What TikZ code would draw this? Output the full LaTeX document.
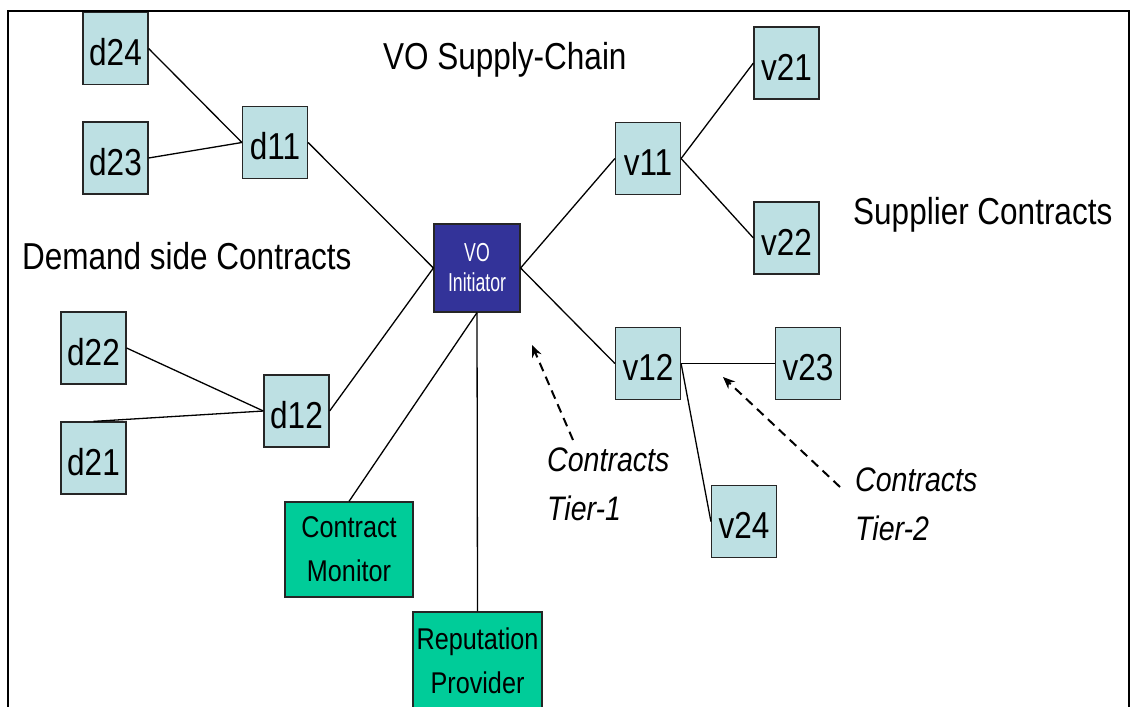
\documentclass[tikz,border=0pt]{standalone}
\usepackage{fontspec}
\setmainfont{Liberation Sans}
\newfontfamily\nar[FakeStretch=0.84]{Liberation Sans}
\newfontfamily\narvo[FakeStretch=0.68]{Liberation Sans}
\usetikzlibrary{arrows.meta}
\definecolor{boxblue}{RGB}{189,224,227}
\definecolor{boxgreen}{RGB}{0,204,153}
\definecolor{vonavy}{RGB}{51,51,153}
\begin{document}
\begin{tikzpicture}[x=1pt,y=-1pt,
  sbox/.style={draw=black!85, line width=1.2pt, fill=boxblue, minimum width=65pt, minimum height=72pt,
    inner sep=0pt, text height=34.5pt, text depth=0pt, font=\nar\fontsize{37.5}{40}\selectfont},
  gbox/.style={draw=black!85, line width=1.2pt, fill=boxgreen, minimum width=128pt, inner sep=0pt,
    align=center, font=\nar\fontsize{30}{44}\selectfont},
  vobox/.style={draw=black!85, line width=1.2pt, fill=vonavy, text=white, minimum width=86pt, minimum height=88pt,
    inner sep=0pt, align=center, font=\narvo\fontsize{26}{30}\selectfont},
  conn/.style={draw=black, line width=1.3pt},
  callout/.style={draw=black, line width=2pt, dash pattern=on 9pt off 6pt, -{Stealth[length=12pt,width=10pt]}},
  bigtext/.style={anchor=base west, inner sep=0pt, font=\nar\fontsize{37.5}{45}\selectfont},
  tiertext/.style={anchor=north west, inner sep=0pt, align=left, font=\nar\itshape\fontsize{34}{49}\selectfont}
]
\useasboundingbox (0,0) rectangle (1131,706);
\clip (0,0) rectangle (1131,706);
\fill[white] (0,0) rectangle (1131,706);
% frame
\draw[line width=2pt] (8,720) -- (8,11) -- (1129,11) -- (1129,720);

% texts
\node[bigtext] (title) at (383,69.5) {VO Supply-Chain};
\node[bigtext] (demand) at (22,269) {Demand side Contracts};
\node[bigtext] (supplier) at (853,224) {Supplier Contracts};

% boxes
\node[vobox] (vo) at (477,268) {VO\\Initiator};
\node[sbox] (d24) at (115.5,48.5) {d24};
\node[sbox] (d23) at (115.5,158) {d23};
\node[sbox] (d11) at (275,142.5) {d11};
\node[sbox] (d22) at (93.5,348) {d22};
\node[sbox] (d21) at (93.5,458) {d21};
\node[sbox] (d12) at (296.5,411) {d12};
\node[sbox] (v11) at (648,158.5) {v11};
\node[sbox] (v21) at (786.5,63) {v21};
\node[sbox] (v22) at (786.5,238) {v22};
\node[sbox] (v12) at (648,363.5) {v12};
\node[sbox] (v23) at (808,363.5) {v23};
\node[sbox] (v24) at (744,521.5) {v24};
\node[gbox, minimum height=95pt] (cm) at (349,549.5) {Contract\\Monitor};
\node[gbox, minimum width=129pt, minimum height=98pt] (rp) at (477.5,661) {Reputation\\Provider};

% connectors
\draw[conn] (d24.east) -- (d11.west);
\draw[conn] (d23.east) -- (d11.west);
\draw[conn] (d11.east) -- (vo.west);
\draw[conn] (d22.east) -- (d12.west);
\draw[conn] (d21.north) -- (d12.west);
\draw[conn] (d12.east) -- (vo.west);
\draw[conn] (vo.south) -- (cm.north);
\draw[conn] (vo.south) -- (rp.north);
\draw[conn] (vo.east) -- (v11.west);
\draw[conn] (vo.east) -- (v12.west);
\draw[conn] (v11.east) -- (v21.west);
\draw[conn] (v11.east) -- (v22.west);
\draw[conn] (v12.east) -- (v23.west);
\draw[conn] (v12.east) -- (v24.west);

% callouts
\node[tiertext] (t1) at (547,448) {Contracts\\Tier-1};
\node[tiertext] (t2) at (855,468) {Contracts\\Tier-2};
\coordinate (t1start) at (573,440);
\coordinate (t1end) at (532,345);
\coordinate (t2start) at (840,487);
\coordinate (t2end) at (723,377);
\draw[callout] (t1start) -- (t1end);
\draw[callout] (t2start) -- (t2end);
\end{tikzpicture}
\end{document}
